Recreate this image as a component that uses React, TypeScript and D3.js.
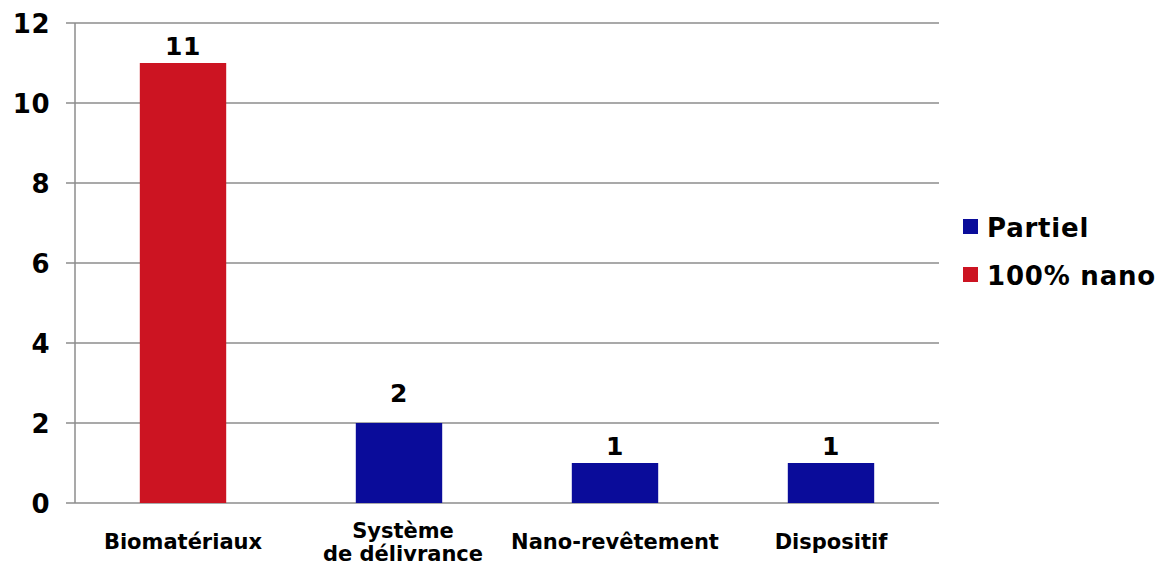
import React from "react";
import * as d3 from "d3";

const categories = ["Biomatériaux", "Système\nde délivrance", "Nano-revêtement", "Dispositif"];
const values = [11, 2, 1, 1];
const seriesOf = ["100% nano", "Partiel", "Partiel", "Partiel"];
const legendItems = ["Partiel", "100% nano"];
const yTicks = [0, 2, 4, 6, 8, 10, 12];
const colors: Record<string, string> = { "Partiel": "#0a0c9a", "100% nano": "#cc1422" };

const W = 1163;
const H = 563;
const left = 75;
const right = 939;
const top = 23;
const bottom = 503;
const font = "'DejaVu Sans', Verdana, sans-serif";

export default function App() {
  const x = d3.scaleBand<number>().domain(d3.range(categories.length)).range([left, right]).paddingInner(0.6).paddingOuter(0.3);
  const y = d3.scaleLinear().domain([0, 12]).range([bottom, top]);

  return (
    <svg width={W} height={H} style={{ position: "absolute", left: 0, top: 0 }} fontFamily={font} fontWeight="bold">
      {yTicks.map((t) => (
        <g key={t}>
          <line x1={66} x2={right} y1={y(t)} y2={y(t)} stroke="#8c8c8c" strokeWidth={1.5} />
          <text x={50} y={y(t) + 10} textAnchor="end" fontSize={26} letterSpacing={0.5} fill="#000">{t}</text>
        </g>
      ))}
      <line x1={left} x2={left} y1={top} y2={bottom} stroke="#8c8c8c" strokeWidth={1.5} />
      {values.map((v, i) => {
        const bx = x(i)!;
        const bw = x.bandwidth();
        // labels sitting on a gridline are lifted clear of it
        const onGrid = yTicks.includes(v);
        return (
          <g key={i}>
            <rect x={bx} y={y(v)} width={bw} height={bottom - y(v)} fill={colors[seriesOf[i]]} />
            <text x={bx + bw / 2} y={y(v) - (onGrid ? 21 : 8)} textAnchor="middle" fontSize={25} letterSpacing={0.5} fill="#000">{v}</text>
          </g>
        );
      })}
      {categories.map((c, i) => {
        const lines = c.split("\n");
        const cx = x(i)! + x.bandwidth() / 2 + (lines.length > 1 ? 4 : 0);
        const y0 = lines.length === 1 ? 549 : 538;
        return (
          <text key={i} x={cx} y={y0} textAnchor="middle" fontSize={21} fill="#000">
            {lines.map((l, j) => (
              <tspan key={j} x={cx} dy={j === 0 ? 0 : 23}>{l}</tspan>
            ))}
          </text>
        );
      })}
      {legendItems.map((s, i) => (
        <g key={s} transform={`translate(963, ${219 + i * 48})`}>
          <rect x={0} y={0} width={15} height={15} fill={colors[s]} />
          <text x={24} y={18} fontSize={26} letterSpacing={0.8} fill="#000">{s}</text>
        </g>
      ))}
    </svg>
  );
}
